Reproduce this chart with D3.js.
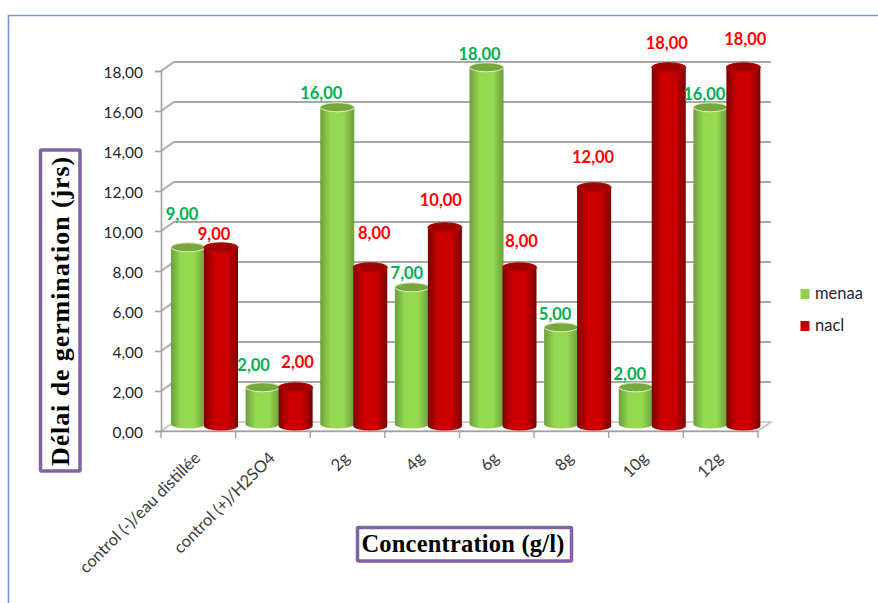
<!DOCTYPE html>
<html>
<head>
<meta charset="utf-8">
<script src="https://cdn.jsdelivr.net/npm/d3@7"></script>
<style>
  html, body { margin: 0; padding: 0; background: #fff; }
  text { font-family: Lato, "Open Sans", sans-serif; }
  .titre { font-family: "Liberation Serif", serif; font-weight: bold; fill: #000; }
  .val { font-weight: bold; font-size: 16.5px; text-anchor: middle; }
</style>
</head>
<body>
<div id="chart"></div>
<script>
// donnees
var categories = ["control (-)/eau distillée", "control (+)/H2SO4", "2g", "4g", "6g", "8g", "10g", "12g"];
var menaa = [9, 2, 16, 7, 18, 5, 2, 16];
var nacl = [9, 2, 8, 10, 8, 12, 18, 18];
var yTicks = [0, 2, 4, 6, 8, 10, 12, 14, 16, 18];

// parametros para la grafica
var width = 878;
var height = 603;
var left = 161, right = 758, bottom = 431, top_ = 71;
var depthX = 13, depthY = -9;
var rx = 17, ry = 4.5;

// decalage des etiquettes, deplacees a la main dans l'original
var decalMenaa = [[-6, -30], [-9, -19], [-16, -11], [-5, -11], [-7, -10], [-6, -10], [-6, -10], [-6, -10]];
var decalNacl = [[-7, -10], [2, -22], [4, -31], [-4, -24], [2, -23], [-1, -27], [-2, -21], [2, -25]];

var svg = d3.select("#chart").append("svg")
  .attr("width", width)
  .attr("height", height)
  .style("display", "block");

var defs = svg.append("defs");
function gradient(id, bord, milieu) {
  var g = defs.append("linearGradient").attr("id", id);
  g.append("stop").attr("offset", "0%").attr("stop-color", bord);
  g.append("stop").attr("offset", "30%").attr("stop-color", milieu);
  g.append("stop").attr("offset", "68%").attr("stop-color", milieu);
  g.append("stop").attr("offset", "100%").attr("stop-color", bord);
}
gradient("vert", "#6c9f3a", "#95d951");
gradient("rouge", "#7d0000", "#cc0000");

/* cadre bleu */
svg.append("path")
  .attr("d", "M8.5,603V15.5H878")
  .attr("fill", "none")
  .attr("stroke", "#7099d3")
  .attr("stroke-width", 1.6);

/* Scale */
var x = d3.scaleBand().domain(categories).range([left, right]);
var yScale = d3.scaleLinear().domain([0, 18]).range([bottom, top_]);

/* grille */
var grille = svg.append("g").attr("fill", "none").attr("stroke", "#a8a8a8").attr("stroke-width", 2);
grille.selectAll("path.g").data(yTicks.filter(d => d > 0)).enter().append("path")
  .attr("class", "g")
  .attr("d", d => `M${left},${yScale(d)}l${depthX},${depthY}H${right + depthX}`);

/* plancher */
svg.append("path")
  .attr("d", `M${left},${bottom}l${depthX},${depthY}H${right + depthX}l${-depthX},${-depthY}Z`)
  .attr("fill", "#fff")
  .attr("stroke", "#c4c4c4")
  .attr("stroke-width", 1.6);

/* Add Axis into SVG */
var yAxis = d3.axisLeft(yScale)
  .tickValues(yTicks)
  .tickSize(6)
  .tickPadding(12)
  .tickFormat(d => d3.format(".2f")(d).replace(".", ","));

var gy = svg.append("g")
  .attr("transform", `translate(${left},0)`)
  .call(yAxis);
gy.select(".domain").attr("stroke", "#a0a0a0").attr("stroke-width", 1.6);
gy.selectAll(".tick line").attr("stroke", "#a0a0a0").attr("stroke-width", 1.6);
gy.selectAll(".tick text")
  .style("font-size", "15.5px")
  .attr("y", 1.5)
  .attr("fill", "#24242c");

var xAxis = d3.axisBottom(x).tickSize(0).tickPadding(0);
var gx = svg.append("g")
  .attr("transform", `translate(0,${bottom})`)
  .call(xAxis);
gx.select(".domain").attr("stroke", "#a0a0a0").attr("stroke-width", 1.6);
gx.selectAll(".tick text")
  .attr("text-anchor", "end")
  .attr("fill", "#3a3a3a")
  .style("font-size", "16.5px")
  .attr("transform", "translate(-1,24) rotate(-45)")
  .attr("dy", "0.35em")
  .attr("y", 0);

// petites graduations aux limites de groupes
svg.append("g").selectAll("line")
  .data(categories.concat([null])).enter().append("line")
  .attr("x1", d => d === null ? right : x(d))
  .attr("x2", d => d === null ? right : x(d))
  .attr("y1", bottom)
  .attr("y2", bottom + 7)
  .attr("stroke", "#a0a0a0")
  .attr("stroke-width", 1.4);

/* cylindres */
function cylindre(g, cx, topY, baseY, fond, dessus, bordure) {
  g.append("path")
    .attr("d", `M${cx - rx},${topY}V${baseY}A${rx},${ry} 0 0 0 ${cx + rx},${baseY}V${topY}Z`)
    .attr("fill", `url(#${fond})`);
  g.append("ellipse")
    .attr("cx", cx).attr("cy", topY)
    .attr("rx", rx).attr("ry", ry)
    .attr("fill", dessus)
    .attr("stroke", bordure)
    .attr("stroke-width", 1);
}

var barres = svg.append("g");
categories.forEach(function (c, i) {
  var g = barres.append("g");
  var cxM = x(c) + 27;
  var cxN = cxM + 33;
  cylindre(g, cxM, yScale(menaa[i]) - 3.7, bottom - 7, "vert", "#76a83f", "#dcefc6");
  cylindre(g, cxN, yScale(nacl[i]) - 3.7, bottom - 5, "rouge", "#a30000", "#b80000");
});

/* etiquettes */
var etiquettes = svg.append("g");
function etiquette(nom, serie, decal, coul, dx) {
  etiquettes.selectAll("text." + nom)
    .data(serie).enter().append("text")
    .attr("class", "val " + nom)
    .attr("fill", coul)
    .attr("x", (d, i) => x(categories[i]) + dx + decal[i][0])
    .attr("y", (d, i) => yScale(d) - 1.5 + decal[i][1])
    .text(d => d3.format(".2f")(d).replace(".", ","));
}
etiquette("menaa", menaa, decalMenaa, "#00b050", 27);
etiquette("nacl", nacl, decalNacl, "#ff0000", 60);

/* legende */
var legende = svg.append("g");
[["menaa", "#92d050", 294], ["nacl", "#c00000", 326]].forEach(function (l) {
  legende.append("rect")
    .attr("x", 800.5).attr("y", l[2] - 5)
    .attr("width", 9).attr("height", 10)
    .attr("fill", l[1]);
  legende.append("text")
    .attr("x", 815).attr("y", l[2] + 5)
    .attr("fill", "#2b2433")
    .style("font-size", "16.5px")
    .text(l[0]);
});

/* titres encadres */
svg.append("rect")
  .attr("x", 40.5).attr("y", 150).attr("width", 39.5).attr("height", 321)
  .attr("rx", 1)
  .attr("fill", "#fff").attr("stroke", "#8064a2").attr("stroke-width", 3.5);
svg.append("text")
  .attr("class", "titre")
  .attr("text-anchor", "middle")
  .style("font-size", "26px")
  .style("letter-spacing", "0.9px")
  .attr("transform", "translate(69,311) rotate(-90)")
  .text("Délai de germination (jrs)");

svg.append("rect")
  .attr("x", 357.5).attr("y", 527.5).attr("width", 214).attr("height", 33.5)
  .attr("rx", 1)
  .attr("fill", "#fff").attr("stroke", "#8064a2").attr("stroke-width", 3.5);
svg.append("text")
  .attr("class", "titre")
  .attr("text-anchor", "middle")
  .style("font-size", "24.5px")
  .style("letter-spacing", "0.2px")
  .attr("x", 463).attr("y", 552)
  .text("Concentration (g/l)");
</script>
</body>
</html>
